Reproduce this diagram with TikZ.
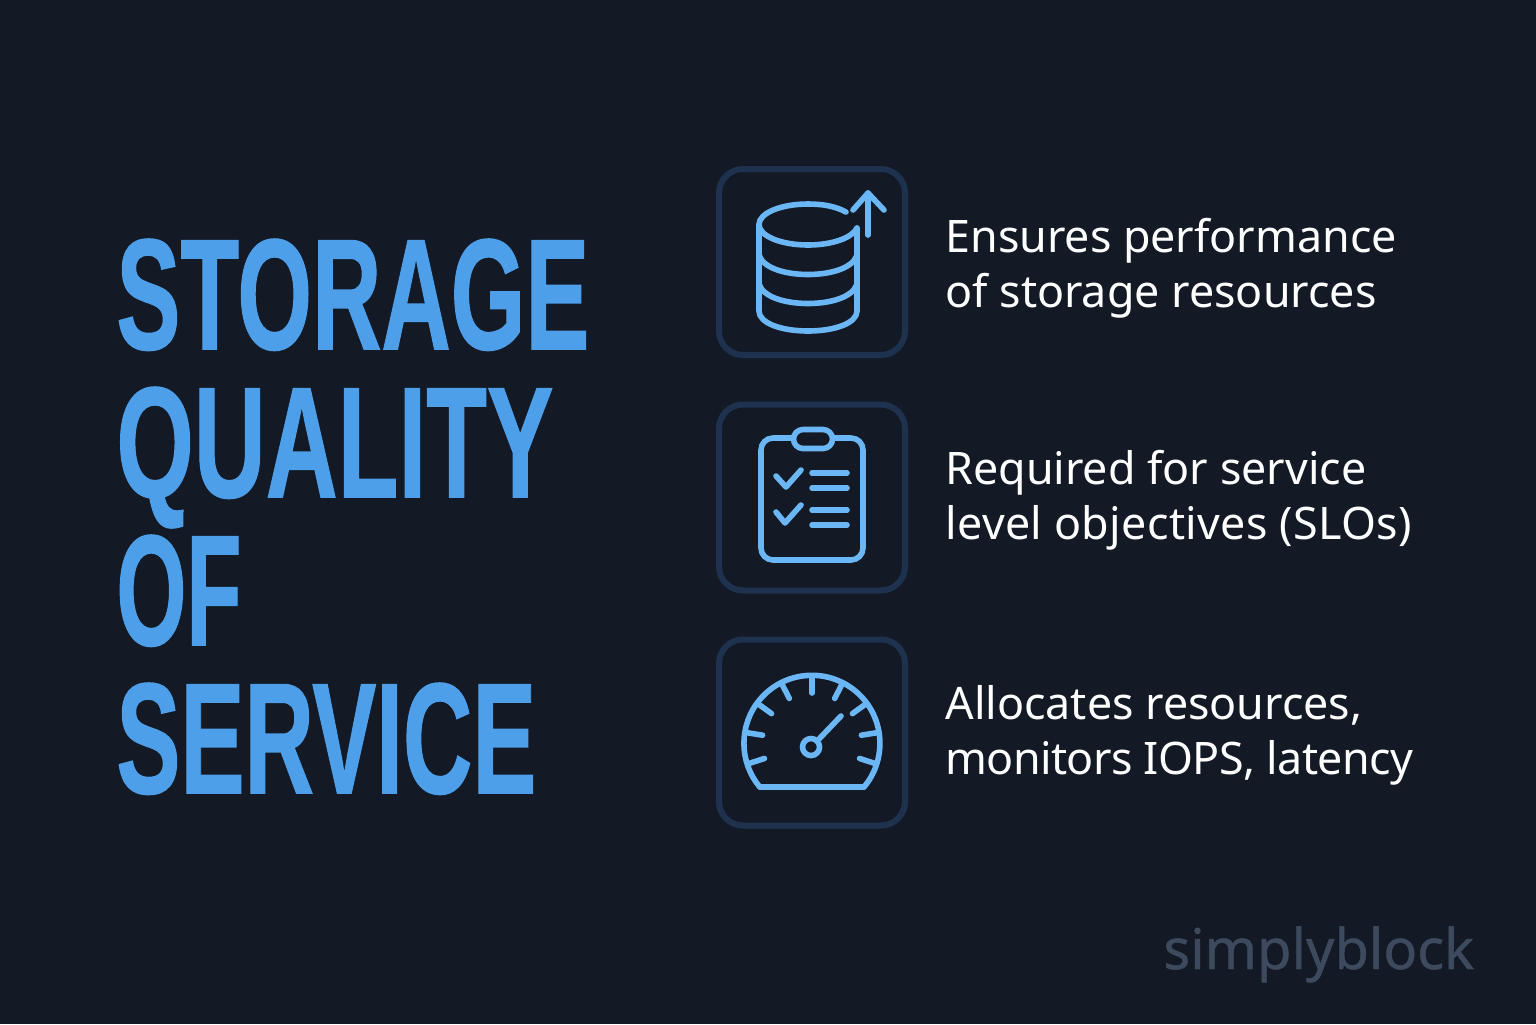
\documentclass[tikz,border=0pt]{standalone}
\usepackage{fontspec}
\usepackage{graphicx}
\setmainfont{Noto Sans}
\newfontfamily\headfont{Liberation Sans}[FakeBold=1]
\newfontfamily\markfont{Noto Sans}[FakeBold=0.8]
\definecolor{bgcol}{HTML}{131A26}
\definecolor{headcol}{HTML}{4D9FEA}
\definecolor{iconcol}{HTML}{6BB6F5}
\definecolor{framecol}{HTML}{1E3250}
\definecolor{markcol}{HTML}{3D4A5E}
\tikzset{
  iconbox/.style={draw=framecol, line width=3pt, rounded corners=12pt, minimum width=93pt, minimum height=93pt, inner sep=0pt},
  iconline/.style={draw=iconcol, line width=2.8pt, line cap=round, line join=round},
  headline/.style={anchor=base west, inner sep=0pt, text=headcol, font=\headfont\bfseries\fontsize{60}{60}\selectfont},
  bodyline/.style={anchor=base west, inner sep=0pt, text=white, font=\fontsize{22.4}{27.5}\selectfont, align=left}
}
\newcommand{\headword}[2]{\resizebox{#1pt}{55pt}{#2}}
\begin{document}
\begin{tikzpicture}[x=0.5pt,y=-0.5pt]
\fill[bgcol] (0,0) rectangle (1536,1024);
% title
\node[headline] (storage) at (116,349) {\headword{236.5}{STORAGE}};
\node[headline] (quality) at (116,497) {\headword{218.5}{QUALITY}};
\node[headline] (of) at (116,645) {\headword{62.5}{OF}};
\node[headline] (service) at (116,793) {\headword{210}{SERVICE}};
% frames
\node[iconbox] (box1) at (812,262) {};
\node[iconbox] (box2) at (812,497.5) {};
\node[iconbox] (box3) at (812,732.5) {};
% database
\draw[iconline] (846,212) .. controls (835,206) and (822,204) .. (808,204) .. controls (781,204) and (759,213) .. (759,224.5) .. controls (759,236) and (781,245) .. (808,245) .. controls (832,245) and (852,238) .. (857,228);
\draw[iconline] (857,228) -- (857,311) .. controls (857,323) and (835,331) .. (808,331) .. controls (781,331) and (759,323) .. (759,311) -- (759,224.5);
\draw[iconline] (759,255) .. controls (763,268) and (785,274.5) .. (808,274.5) .. controls (831,274.5) and (853,268) .. (857,255);
\draw[iconline] (759,284) .. controls (763,297) and (785,303.5) .. (808,303.5) .. controls (831,303.5) and (853,297) .. (857,284);
\draw[iconline] (868,235) -- (868,193);
\draw[iconline] (853,210) -- (868,193) -- (884,210);
% clipboard
\draw[iconline, rounded corners=6pt] (761,438) rectangle (863,560);
\draw[iconline, fill=bgcol] (803,429.5) -- (823,429.5) arc[start angle=-90, end angle=90, radius=9.5] -- (803,448.5) arc[start angle=90, end angle=270, radius=9.5] -- cycle;
\draw[iconline] (776,476) -- (786,487) -- (801,470);
\draw[iconline] (776,512) -- (785,523) -- (801,505);
\foreach \y in {473,488,510,525}
  \draw[iconline] (812,\y) -- (847,\y);
% gauge
\coordinate (dial) at (812,743);
\draw[iconline] (760,787) -- (864,787) arc[start angle=40, end angle=-220, radius=68];
\draw[iconline] (760,787) -- (864,787);
\foreach \a in {162,189,216,243,270,297,324,351,378}
  \draw[iconline] (dial) ++(\a:67) -- ++(\a:-17);
\node[draw=iconcol, line width=2.8pt, circle, minimum size=8.5pt, inner sep=0pt] (hub) at (811,747) {};
\draw[iconline] (hub.north east) -- (841,716);
% texts
\node[bodyline] (text1) at (945,307) {Ensures performance\\of storage resources};
\node[bodyline] (text2) at (945,539) {Required for service\\{\addfontfeature{LetterSpace=0.8}level objectives (SLOs)}};
\node[bodyline] (text3) at (945,774) {Allocates resources,\\{\addfontfeature{LetterSpace=-1.3}monitors IOPS, latency}};
\node[anchor=base west, inner sep=0pt, text=markcol, font=\markfont\fontsize{28}{28}\selectfont] (mark) at (1163,969) {simplyblock};
\end{tikzpicture}
\end{document}
